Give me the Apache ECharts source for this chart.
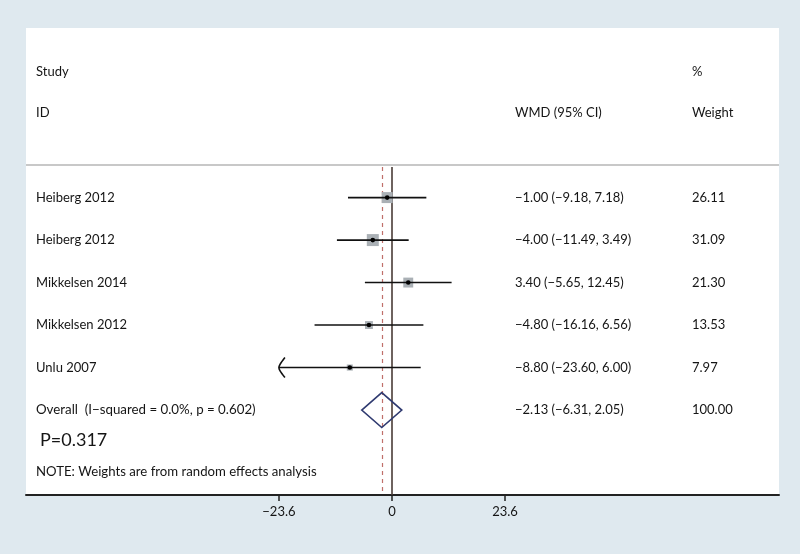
<!DOCTYPE html>
<html>
<head>
<meta charset="utf-8">
<script src="https://cdn.jsdelivr.net/npm/echarts@6/dist/echarts.min.js"></script>
<style>html,body{margin:0;padding:0;background:#dfe9ef}#c{width:800px;height:554px}</style>
</head>
<body>
<div id="c"></div>
<script>
// ---- data ----
const studies = ['Heiberg 2012', 'Heiberg 2012', 'Mikkelsen 2014', 'Mikkelsen 2012', 'Unlu 2007'];
const wmd = [-1.00, -4.00, 3.40, -4.80, -8.80];
const lower = [-9.18, -11.49, -5.65, -16.16, -23.60];
const upper = [7.18, 3.49, 12.45, 6.56, 6.00];
const weights = [26.11, 31.09, 21.30, 13.53, 7.97];
const overallLabel = 'Overall  (I\u2212squared = 0.0%, p = 0.602)';
const overallWmd = -2.13;
const overallLower = -6.31;
const overallUpper = 2.05;
const overallWeight = 100.00;
const xTicks = [-23.6, 0, 23.6];
const pText = 'P=0.317';
const noteText = 'NOTE: Weights are from random effects analysis';

const FONT = 'Lato';
const TXT = '#151515';
const tickMin = Math.min(...xTicks);

function fmt(v, d) {
  const s = Math.abs(v).toFixed(d);
  return (v < 0 ? '\u2212' : '') + s;
}

const studyData = studies.map((s, i) => [wmd[i], i, lower[i], upper[i], weights[i]]);
const overallRow = studies.length;

function textEl(x, y, text, size, align) {
  return {
    type: 'text', x: x, y: y,
    style: { text: text, fill: TXT, font: (size || 13) + 'px ' + FONT, align: align || 'left', verticalAlign: 'middle' }
  };
}

function renderStudy(params, api) {
  const est = api.value(0), row = api.value(1), lo = api.value(2), hi = api.value(3), w = api.value(4);
  const cs = params.coordSys;
  const pc = api.coord([est, row]);
  const plo = api.coord([Math.max(lo, tickMin), row]);
  const phi = api.coord([hi, row]);
  const side = 2.15 * Math.sqrt(w);
  const i = params.dataIndex;
  const children = [
    { type: 'rect', shape: { x: pc[0] - side / 2, y: pc[1] - side / 2, width: side, height: side }, style: { fill: '#aab0b5' } },
    { type: 'line', shape: { x1: plo[0], y1: plo[1], x2: phi[0], y2: phi[1] }, style: { stroke: '#111', lineWidth: 1.6 } },
    { type: 'circle', shape: { cx: pc[0], cy: pc[1], r: 2.3 }, style: { fill: '#000' } },
    textEl(cs.x + 10, pc[1], studies[i], 13),
    textEl(cs.x + 489, pc[1], fmt(wmd[i], 2) + ' (' + fmt(lower[i], 2) + ', ' + fmt(upper[i], 2) + ')', 13),
    textEl(cs.x + 666, pc[1], weights[i].toFixed(2), 13)
  ];
  if (lo <= tickMin) {
    children.push({
      type: 'polyline',
      shape: { points: [[plo[0] + 6, plo[1] - 10], [plo[0] + 1, plo[1] - 3], [plo[0], plo[1]], [plo[0] + 1, plo[1] + 3], [plo[0] + 6, plo[1] + 10]], smooth: 0.3 },
      style: { stroke: '#111', lineWidth: 1.6, fill: null }
    });
  }
  return { type: 'group', children: children };
}

function renderOverall(params, api) {
  const est = api.value(0), row = api.value(1), lo = api.value(2), hi = api.value(3);
  const cs = params.coordSys;
  const pl = api.coord([lo, row]);
  const pr = api.coord([hi, row]);
  const pc = api.coord([est, row]);
  const h = 17.5;
  return {
    type: 'group', children: [
      { type: 'polygon', shape: { points: [[pl[0], pl[1]], [pc[0], pc[1] - h], [pr[0], pr[1]], [pc[0], pc[1] + h]] }, style: { stroke: '#2f3a70', lineWidth: 1.6, fill: null } },
      textEl(cs.x + 10, pc[1], overallLabel, 13.3),
      textEl(cs.x + 489, pc[1], fmt(overallWmd, 2) + ' (' + fmt(overallLower, 2) + ', ' + fmt(overallUpper, 2) + ')', 13),
      textEl(cs.x + 666, pc[1], overallWeight.toFixed(2), 13)
    ]
  };
}

const chart = echarts.init(document.getElementById('c'), null, { renderer: 'canvas' });
chart.setOption({
  backgroundColor: '#dfe9ef',
  animation: false,
  graphic: [
    { type: 'rect', z: -10, shape: { x: 26, y: 28, width: 753, height: 467 }, style: { fill: '#ffffff' }, silent: true },
    { type: 'line', z: -5, shape: { x1: 26, y1: 165, x2: 779, y2: 165 }, style: { stroke: '#c8c8c8', lineWidth: 2 } },
    { type: 'text', x: 36, y: 72, style: { text: 'Study', fill: TXT, font: '13px ' + FONT, verticalAlign: 'middle' } },
    { type: 'text', x: 36, y: 113, style: { text: 'ID', fill: TXT, font: '13px ' + FONT, verticalAlign: 'middle' } },
    { type: 'text', x: 515, y: 113, style: { text: 'WMD (95% CI)', fill: TXT, font: '13px ' + FONT, verticalAlign: 'middle' } },
    { type: 'text', x: 692, y: 72, style: { text: '%', fill: TXT, font: '13px ' + FONT, verticalAlign: 'middle' } },
    { type: 'text', x: 692, y: 113, style: { text: 'Weight', fill: TXT, font: '13px ' + FONT, verticalAlign: 'middle' } },
    { type: 'text', x: 40, y: 440, style: { text: pText, fill: TXT, font: '18px ' + FONT, verticalAlign: 'middle' } },
    { type: 'text', x: 36, y: 472, style: { text: noteText, fill: TXT, font: '13.2px ' + FONT, verticalAlign: 'middle' } }
  ],
  grid: { left: 26, right: 21, top: 167, bottom: 59, show: false },
  xAxis: {
    type: 'value', min: -76.4, max: 80.8,
    splitLine: { show: false },
    axisLine: { show: true, onZero: false, lineStyle: { color: '#222', width: 2 } },
    axisTick: { show: true, length: 6, customValues: xTicks, lineStyle: { color: '#222', width: 1.5 } },
    axisLabel: {
      show: true, customValues: xTicks, margin: 10, color: TXT, fontFamily: FONT, fontSize: 13,
      formatter: v => (v === 0 ? '0' : fmt(v, 1))
    }
  },
  yAxis: { type: 'value', inverse: true, min: -0.72, max: 7.0, show: false },
  series: [
    {
      type: 'custom', name: 'studies', renderItem: renderStudy, data: studyData, z: 5,
      encode: { x: [0, 2, 3], y: 1 },
      markLine: {
        silent: true, symbol: 'none', label: { show: false },
        data: [
          { xAxis: 0, lineStyle: { color: '#4a3c37', width: 1.6, type: 'solid' } },
          { xAxis: overallWmd, lineStyle: { color: '#c0706a', width: 1.2, type: [4, 4] } }
        ]
      }
    },
    {
      type: 'custom', name: 'overall', renderItem: renderOverall, z: 6,
      encode: { x: [0, 2, 3], y: 1 },
      data: [[overallWmd, overallRow, overallLower, overallUpper, overallWeight]]
    }
  ]
});
</script>
</body>
</html>
